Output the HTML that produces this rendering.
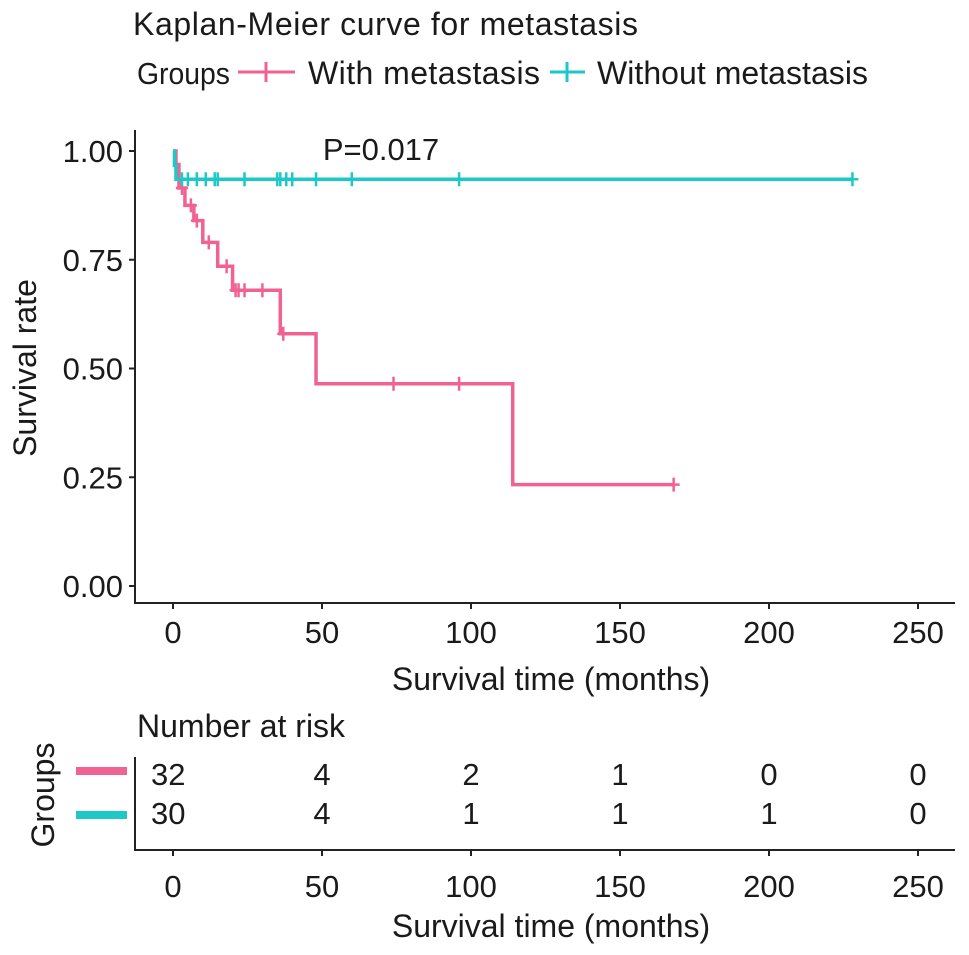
<!DOCTYPE html>
<html><head><meta charset="utf-8"><style>
body{margin:0;background:#fff}
svg{display:block;font-family:"Liberation Sans",sans-serif;fill:#1a1a1a}
</style></head><body>
<svg id="c" width="969" height="955" viewBox="0 0 969 955">
<text x="133" y="35" font-size="32" textLength="505">Kaplan-Meier curve for metastasis</text>
<g>
<text x="137" y="84" font-size="31" textLength="93" lengthAdjust="spacingAndGlyphs">Groups</text>
<g><line x1="238" y1="72" x2="295" y2="72" stroke="#f06292" stroke-width="3"/><line x1="266" y1="62" x2="266" y2="82" stroke="#f06292" stroke-width="3"/><text x="308" y="84" font-size="32" textLength="232">With metastasis</text></g>
<g><line x1="550" y1="72" x2="585" y2="72" stroke="#1ec8c8" stroke-width="3"/><line x1="567" y1="62" x2="567" y2="82" stroke="#1ec8c8" stroke-width="3"/><text x="597" y="84" font-size="32" textLength="271">Without metastasis</text></g>
</g>
<g id="plot"></g>
<g id="risk"></g>
</svg>
<script>
const xTicks=[0,50,100,150,200,250];
const yTicks=[0,0.25,0.5,0.75,1.0];
const yLabels=["0.00","0.25","0.50","0.75","1.00"];
const withTimes=[0,1,2,4,7,10,15,20,36,48,114,168];
const withSurv=[1.0,0.969,0.915,0.875,0.84,0.79,0.735,0.68,0.58,0.465,0.233,0.233];
const withCensor=[3,6,8,12,18,21,22,24,30,37,74,96,168];
const withoutTimes=[0,0.5,1,228];
const withoutSurv=[1.0,0.967,0.935,0.935];
const withoutCensor=[3,5,8,11,14,15,24,35,36,38,40,48,60,96,228];
const riskWith=[32,4,2,1,0,0];
const riskWithout=[30,4,1,1,1,0];
const ns="http://www.w3.org/2000/svg";
const X=t=>173+t*2.98, Y=s=>586-s*435;
function mk(tag,at,parent,txt){const e=document.createElementNS(ns,tag);for(const k in at)e.setAttribute(k,at[k]);if(txt!==undefined)e.textContent=txt;parent.appendChild(e);return e;}
const P=document.getElementById('plot'),R=document.getElementById('risk');
let a=mk('path',{d:'M135 130V603H955',fill:'none',stroke:'#222','stroke-width':2},P);


yTicks.forEach((v,i)=>{mk('line',{x1:129,x2:135,y1:Y(v),y2:Y(v),stroke:'#222','stroke-width':2},P);
let t=mk('text',{x:123,y:Y(v)+11,'font-size':31,'text-anchor':'end'},P,yLabels[i]);

});
xTicks.forEach(v=>{mk('line',{x1:X(v),x2:X(v),y1:603,y2:609,stroke:'#222','stroke-width':2},P);
let t=mk('text',{x:X(v),y:643,'font-size':31,'text-anchor':'middle'},P,v);

});
let xt=mk('text',{x:551,y:690,'font-size':32,'text-anchor':'middle'},P,'Survival time (months)');


let yt=mk('text',{x:0,y:0,'font-size':32,'text-anchor':'middle',transform:'translate(36,368) rotate(-90)'},P,'Survival rate');


let pv=mk('text',{x:381,y:160,'font-size':31,'text-anchor':'middle'},P,'P=0.017');


function stepAt(times,surv,t){let s=surv[0];for(let i=0;i<times.length;i++)if(times[i]<=t)s=surv[i];return s;}
function curve(times,surv,cens,col,name){
 let d='M'+X(times[0])+' '+Y(surv[0]);
 for(let i=1;i<times.length;i++){d+='H'+X(times[i])+'V'+Y(surv[i]);}
 let p=mk('path',{d:d,fill:'none',stroke:col,'stroke-width':3.5},P);
 
 
 cens.forEach(t=>{const s=stepAt(times,surv,t);
  let c=mk('path',{d:`M${X(t)-6} ${Y(s)}h12M${X(t)} ${Y(s)-7}v14`,stroke:col,'stroke-width':2.5,fill:'none'},P);
  
  });
}
curve(withTimes,withSurv,withCensor,'#f06292','with-metastasis');
curve(withoutTimes,withoutSurv,withoutCensor,'#1ec8c8','without-metastasis');
let rt=mk('text',{x:137,y:737,'font-size':32},R,'Number at risk');


let ra=mk('path',{d:'M135 757V850H955',fill:'none',stroke:'#222','stroke-width':2},R);


let g=mk('text',{x:0,y:0,'font-size':32,'text-anchor':'middle',transform:'translate(54,795) rotate(-90)'},R,'Groups');


let b1=mk('line',{x1:76,x2:127,y1:771,y2:771,stroke:'#f06292','stroke-width':8},R);


let b2=mk('line',{x1:76,x2:127,y1:815,y2:815,stroke:'#1ec8c8','stroke-width':8},R);


xTicks.forEach((v,i)=>{
 let a1=mk('text',{x:X(v),y:785,'font-size':31,'text-anchor':i==0?'start':'middle',dx:i==0?-22:0},R,riskWith[i]);
 
 
 let a2=mk('text',{x:X(v),y:824,'font-size':31,'text-anchor':i==0?'start':'middle',dx:i==0?-22:0},R,riskWithout[i]);
 
 
 mk('line',{x1:X(v),x2:X(v),y1:850,y2:856,stroke:'#222','stroke-width':2},R);
 let t=mk('text',{x:X(v),y:897,'font-size':31,'text-anchor':'middle'},R,v);
 
 
});
let rx=mk('text',{x:551,y:937,'font-size':32,'text-anchor':'middle'},R,'Survival time (months)');


</script>
</body></html>
